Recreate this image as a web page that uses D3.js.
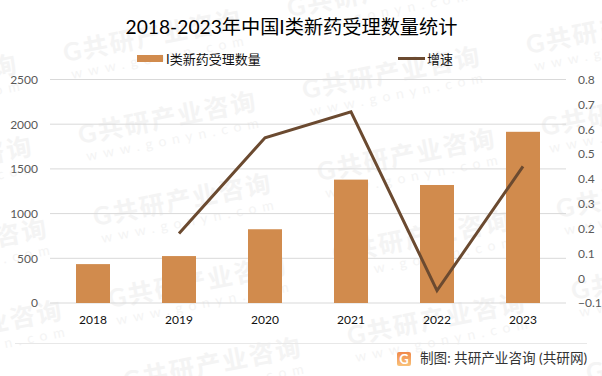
<!DOCTYPE html>
<html>
<head>
<meta charset="utf-8">
<script src="https://cdn.jsdelivr.net/npm/d3@7"></script>
<style>
  html, body { margin: 0; padding: 0; background: #fff; }
  text { font-family: Lato, "Noto Sans CJK SC", sans-serif; }
</style>
</head>
<body>
<div id="viz"></div>
<script>
const years = ['2018', '2019', '2020', '2021', '2022', '2023'];
const accepted = [435, 525, 825, 1380, 1320, 1915];
const growth = [null, 0.18, 0.565, 0.67, -0.05, 0.45];
const leftTicks = [0, 500, 1000, 1500, 2000, 2500];
const rightTicks = [-0.1, 0, 0.1, 0.2, 0.3, 0.4, 0.5, 0.6, 0.7, 0.8];

const width = 602;
const height = 376;
const margin = {top: 79.5, right: 36, bottom: 73, left: 50};
const barColor = '#D18B4D';
const lineColor = '#6B4A30';

const svg = d3.select('#viz')
  .append('svg')
    .attr('width', width)
    .attr('height', height)
    .style('display', 'block');

// watermark sits on a slanted lattice behind the chart
const marks = svg.append('g');
for (let row = -3; row < 8; row++) {
  for (let col = -2; col < 4; col++) {
    const x = 65 + col * 224 + row * 15;
    const y = 62 + row * 82 - col * 45;
    // skip the ones that would land fully off the page
    if (x < -170 || x > width - 5 || y < -5 || y > height + 35) continue;
    const g = marks.append('g')
      .attr('transform', `translate(${x}, ${y}) rotate(-11)`)
      .attr('fill', '#f4f4f4');
    g.append('text')
      .attr('font-size', 25)
      .attr('font-weight', 700)
      .attr('letter-spacing', 2)
      .text('G共研产业咨询');
    g.append('text')
      .attr('x', 4)
      .attr('y', 18)
      .attr('font-size', 14)
      .attr('letter-spacing', 6)
      .text('www.gonyn.com');
  }
}

const xScale = d3.scaleBand()
  .domain(years)
  .range([margin.left, width - margin.right]);

const yLeft = d3.scaleLinear()
  .domain([0, 2500])
  .range([height - margin.bottom, margin.top]);

const yRight = d3.scaleLinear()
  .domain([-0.1, 0.8])
  .range([height - margin.bottom, margin.top]);

// gridlines
svg.append('g')
  .selectAll('line')
  .data(leftTicks)
  .join('line')
    .attr('x1', margin.left)
    .attr('x2', width - margin.right)
    .attr('y1', d => yLeft(d))
    .attr('y2', d => yLeft(d))
    .attr('stroke', '#d9d9d9')
    .attr('stroke-width', 1);

svg.append('g')
  .selectAll('rect')
  .data(accepted)
  .join('rect')
    .attr('x', (d, i) => xScale(years[i]) + xScale.bandwidth() / 2 - 17)
    .attr('y', d => yLeft(d))
    .attr('width', 34)
    .attr('height', d => yLeft(0) - yLeft(d))
    .attr('fill', barColor);

const lineGen = d3.line()
  .defined(d => d !== null)
  .x((d, i) => xScale(years[i]) + xScale.bandwidth() / 2)
  .y(d => yRight(d));

svg.append('path')
  .attr('d', lineGen(growth))
  .attr('fill', 'none')
  .attr('stroke', lineColor)
  .attr('stroke-width', 3);

// axes, domain and tick marks hidden like the original
const axisBottom = svg.append('g')
  .attr('transform', `translate(0, ${height - margin.bottom})`)
  .call(d3.axisBottom(xScale).tickSize(0).tickPadding(12));
axisBottom.select('.domain').remove();
axisBottom.selectAll('text')
  .attr('font-size', 12)
  .attr('fill', '#111')
  .style('font-family', 'Lato, sans-serif');

const axisLeft = svg.append('g')
  .attr('transform', `translate(${margin.left}, 0)`)
  .call(d3.axisLeft(yLeft).tickValues(leftTicks).tickFormat(d3.format('d')).tickSize(0).tickPadding(12));
axisLeft.select('.domain').remove();
axisLeft.selectAll('text')
  .attr('font-size', 12)
  .attr('fill', '#595959')
  .style('font-family', 'Lato, sans-serif');

const axisRight = svg.append('g')
  .attr('transform', `translate(${width - margin.right}, 0)`)
  .call(d3.axisRight(yRight).tickValues(rightTicks).tickFormat(d3.format('~g')).tickSize(0).tickPadding(12));
axisRight.select('.domain').remove();
axisRight.selectAll('text')
  .attr('font-size', 12)
  .attr('fill', '#595959')
  .style('font-family', 'Lato, sans-serif');

// title
svg.append('text')
  .attr('x', 291.5)
  .attr('y', 34)
  .attr('text-anchor', 'middle')
  .attr('font-size', 19.2)
  .attr('fill', '#000')
  .text('2018-2023年中国I类新药受理数量统计');

// legend
svg.append('rect')
  .attr('x', 137)
  .attr('y', 55)
  .attr('width', 26)
  .attr('height', 7)
  .attr('fill', barColor);
svg.append('text')
  .attr('x', 166)
  .attr('y', 64)
  .attr('font-size', 13)
  .attr('fill', '#111')
  .text('I类新药受理数量');
svg.append('line')
  .attr('x1', 398)
  .attr('x2', 425)
  .attr('y1', 58.5)
  .attr('y2', 58.5)
  .attr('stroke', lineColor)
  .attr('stroke-width', 3);
svg.append('text')
  .attr('x', 427)
  .attr('y', 64)
  .attr('font-size', 13)
  .attr('fill', '#111')
  .text('增速');

// footer
svg.append('line')
  .attr('x1', 15)
  .attr('x2', 587)
  .attr('y1', 343.5)
  .attr('y2', 343.5)
  .attr('stroke', '#e8e8e8');

const logoFill = svg.append('defs')
  .append('linearGradient')
    .attr('id', 'logo-fill')
    .attr('x1', 0).attr('y1', 0)
    .attr('x2', 0).attr('y2', 1);
logoFill.append('stop').attr('offset', 0).attr('stop-color', '#F0884A');
logoFill.append('stop').attr('offset', 1).attr('stop-color', '#F9C27A');

svg.append('rect')
  .attr('x', 397)
  .attr('y', 352)
  .attr('width', 14)
  .attr('height', 14)
  .attr('rx', 2)
  .attr('fill', 'url(#logo-fill)');
svg.append('text')
  .attr('x', 404)
  .attr('y', 363.5)
  .attr('text-anchor', 'middle')
  .attr('font-size', 13)
  .attr('font-weight', 700)
  .attr('fill', '#fff')
  .text('G');
svg.append('text')
  .attr('x', 420)
  .attr('y', 363)
  .attr('font-size', 13.6)
  .attr('fill', '#333')
  .text('制图: 共研产业咨询 (共研网)');
</script>
</body>
</html>
